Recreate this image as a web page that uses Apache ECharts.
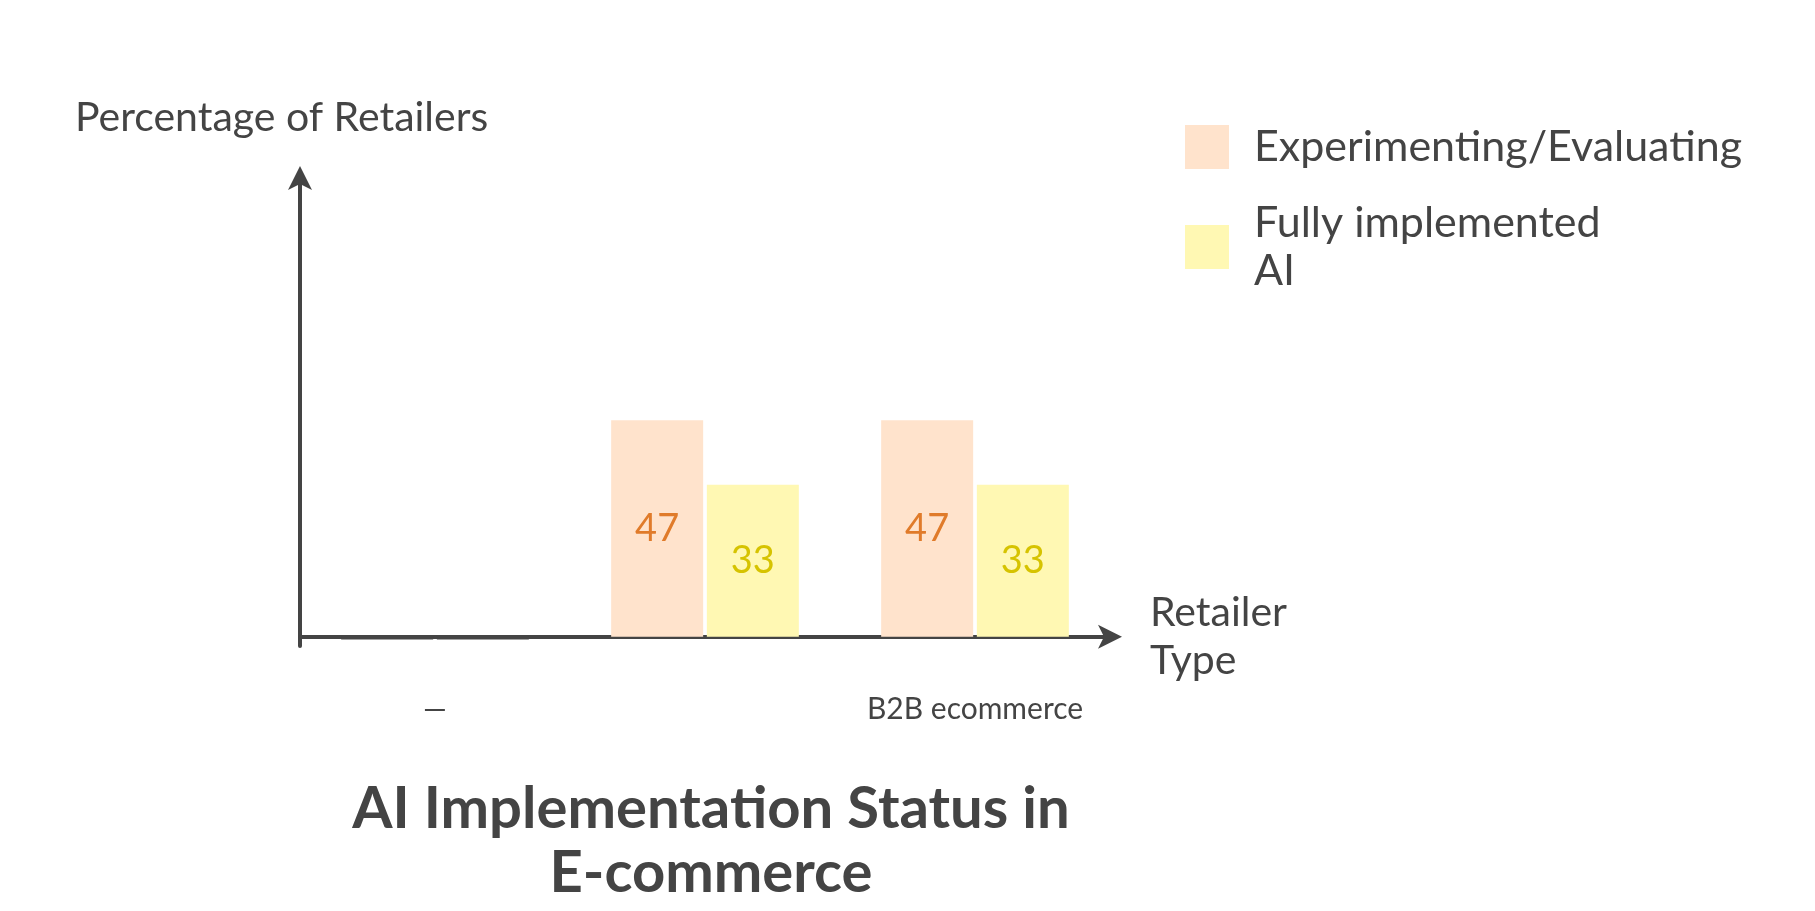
<!DOCTYPE html><html><head><meta charset="utf-8">
<script src="https://cdn.jsdelivr.net/npm/echarts@6/dist/echarts.min.js"></script>
<style>html,body{margin:0;background:#fff}#c{width:1815px;height:911px}</style></head><body><div id="c"></div><script>
const categories=['—','U.S. retailers','B2B ecommerce'];
const experimenting=[-0.6,47,47];
const fully=[-0.6,33,33];
const seriesNames=['Experimenting/Evaluating','Fully implemented\nAI'];
const F='Lato, "Noto Sans", sans-serif';
const c=echarts.init(document.getElementById('c'));
function mk(vals){return vals.map(v=>v<0?{value:v,itemStyle:{color:'#444'},label:{show:false}}:{value:v});}
c.setOption({
 animation:false,
 title:{text:'AI Implementation Status in\nE-commerce',left:706,top:772,textAlign:'center',textStyle:{fontFamily:F,fontSize:58,fontWeight:'bold',color:'#444',lineHeight:64}},
 legend:{orient:'vertical',left:1180,top:118,itemWidth:44,itemHeight:44,itemGap:28,icon:'rect',textStyle:{fontFamily:F,fontSize:43,color:'#444',lineHeight:48,padding:[0,0,0,20]}},
 grid:{left:300,top:176,width:810,height:470},
 xAxis:{type:'category',data:categories,name:'Retailer\nType',nameLocation:'end',nameGap:40,
  nameTextStyle:{fontFamily:F,fontSize:41,color:'#444',lineHeight:48,align:'left',verticalAlign:'middle'},
  axisLine:{onZero:true,lineStyle:{color:'#444',width:4},symbol:['none','arrow'],symbolSize:[18,24],symbolOffset:[0,12]},
  axisTick:{show:false},axisLabel:{fontFamily:F,fontSize:30,color:'#444',margin:48}},
 yAxis:{type:'value',min:-2,max:100,name:'Percentage of Retailers',nameLocation:'end',nameGap:38,
  nameTextStyle:{fontFamily:F,fontSize:41,color:'#444',align:'left',padding:[0,0,0,-225]},
  axisLine:{show:true,lineStyle:{color:'#444',width:4},symbol:['none','arrow'],symbolSize:[18,24],symbolOffset:[0,10]},
  axisTick:{show:false},axisLabel:{show:false},splitLine:{show:false}},
 series:[
  {name:seriesNames[0],type:'bar',data:mk(experimenting),barWidth:92,barGap:'4%',itemStyle:{color:'#ffe3cc'},
   label:{show:true,position:'inside',fontFamily:F,fontSize:38,color:'#e07b2a'}},
  {name:seriesNames[1],type:'bar',data:mk(fully),barWidth:92,itemStyle:{color:'#fff8b3'},
   label:{show:true,position:'inside',fontFamily:F,fontSize:38,color:'#d6c300'}}
 ]});
</script></body></html>
